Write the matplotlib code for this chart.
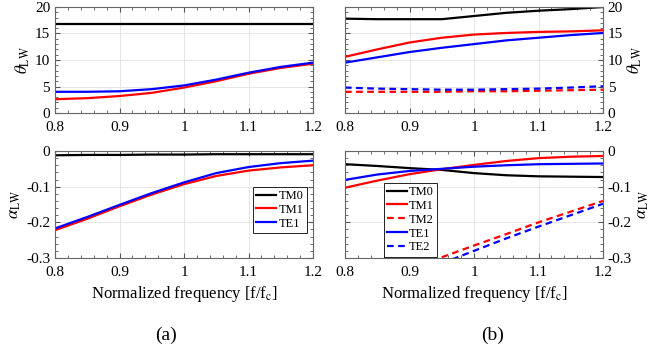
import numpy as np
import matplotlib
matplotlib.use("Agg")
import matplotlib.pyplot as plt
from matplotlib.ticker import AutoMinorLocator

plt.rcParams["font.family"] = "Liberation Serif"
plt.rcParams["mathtext.fontset"] = "stix"

freq = [0.8, 0.85, 0.9, 0.95, 1.0, 1.05, 1.1, 1.15, 1.2]

# (a) leaky-wave angle / attenuation
a_theta_tm0 = [16.7, 16.7, 16.7, 16.7, 16.7, 16.7, 16.7, 16.7, 16.7]
a_theta_tm1 = [2.6, 2.8, 3.2, 3.8, 4.8, 6.0, 7.4, 8.5, 9.3]
a_theta_te1 = [4.0, 4.0, 4.1, 4.5, 5.2, 6.3, 7.6, 8.7, 9.5]
a_alpha_tm0 = [-0.012, -0.011, -0.011, -0.010, -0.010, -0.009, -0.009, -0.009, -0.009]
a_alpha_tm1 = [-0.222, -0.19, -0.155, -0.122, -0.093, -0.07, -0.055, -0.046, -0.04]
a_alpha_te1 = [-0.217, -0.185, -0.151, -0.118, -0.088, -0.062, -0.045, -0.034, -0.027]

# (b)
b_theta_tm0 = [17.8, 17.7, 17.7, 17.7, 18.3, 18.9, 19.3, 19.6, 20.0]
b_theta_tm1 = [10.6, 12.0, 13.3, 14.2, 14.8, 15.1, 15.3, 15.4, 15.6]
b_theta_tm2 = [4.0, 4.0, 4.0, 4.0, 4.1, 4.1, 4.2, 4.3, 4.4]
b_theta_te1 = [9.5, 10.5, 11.5, 12.3, 13.0, 13.7, 14.2, 14.7, 15.1]
b_theta_te2 = [4.8, 4.6, 4.5, 4.4, 4.4, 4.5, 4.6, 4.8, 5.05]
b_alpha_tm0 = [-0.037, -0.042, -0.048, -0.053, -0.062, -0.068, -0.071, -0.072, -0.073]
b_alpha_tm1 = [-0.103, -0.083, -0.065, -0.051, -0.039, -0.028, -0.02, -0.016, -0.014]
b_alpha_te1 = [-0.081, -0.066, -0.056, -0.05, -0.044, -0.04, -0.037, -0.036, -0.035]
freq_hi = [0.95, 1.0, 1.05, 1.1, 1.15, 1.2]
b_alpha_tm2 = [-0.298, -0.265, -0.233, -0.2, -0.17, -0.14]
b_alpha_te2 = [-0.315, -0.28, -0.245, -0.212, -0.18, -0.148]

W, H = 657, 354
fig = plt.figure(figsize=(W / 100, H / 100), dpi=100)

def box(x0, y0, x1, y1):
    return [x0 / W, 1 - y1 / H, (x1 - x0) / W, (y1 - y0) / H]

ax1 = fig.add_axes(box(55, 7, 313, 113))
ax2 = fig.add_axes(box(55, 151, 313, 258))
ax3 = fig.add_axes(box(345, 7, 603, 113))
ax4 = fig.add_axes(box(345, 151, 603, 258))

lw = 1.6
dash = (0, (3, 2))
ax1.plot(freq, a_theta_tm0, color="black", lw=lw)
ax1.plot(freq, a_theta_tm1, color="red", lw=lw)
ax1.plot(freq, a_theta_te1, color="blue", lw=lw)

ax2.plot(freq, a_alpha_tm0, color="black", lw=lw, label="TM0")
ax2.plot(freq, a_alpha_tm1, color="red", lw=lw, label="TM1")
ax2.plot(freq, a_alpha_te1, color="blue", lw=lw, label="TE1")

ax3.plot(freq, b_theta_tm0, color="black", lw=lw)
ax3.plot(freq, b_theta_tm1, color="red", lw=lw)
ax3.plot(freq, b_theta_tm2, color="red", lw=lw, ls=dash)
ax3.plot(freq, b_theta_te1, color="blue", lw=lw)
ax3.plot(freq, b_theta_te2, color="blue", lw=lw, ls=dash)

ax4.plot(freq, b_alpha_tm0, color="black", lw=lw, label="TM0")
ax4.plot(freq, b_alpha_tm1, color="red", lw=lw, label="TM1")
ax4.plot(freq_hi, b_alpha_tm2, color="red", lw=lw, ls=dash, label="TM2")
ax4.plot(freq, b_alpha_te1, color="blue", lw=lw, label="TE1")
ax4.plot(freq_hi, b_alpha_te2, color="blue", lw=lw, ls=dash, label="TE2")

for ax in (ax1, ax2, ax3, ax4):
    ax.set_xlim(0.8, 1.2)
    ax.set_xticks([0.8, 0.9, 1.0, 1.1, 1.2])
    ax.set_xticklabels(["0.8", "0.9", "1", "1.1", "1.2"])
    ax.xaxis.set_minor_locator(AutoMinorLocator(5))
    ax.yaxis.set_minor_locator(AutoMinorLocator(5))
    ax.tick_params(which="both", direction="in", top=True, right=True,
                   color="#555555", labelsize=11)
    ax.tick_params(which="major", length=3.5)
    ax.tick_params(which="minor", length=2)
    ax.tick_params(axis="x", pad=6)
    ax.grid(True, color="#e6e6e6", lw=0.7)
    for s in ax.spines.values():
        s.set_color("#666666")
        s.set_linewidth(0.8)

for ax in (ax1, ax3):
    ax.set_ylim(0, 20)
    ax.set_yticks([0, 5, 10, 15, 20])
    ax.set_ylabel(r"$\theta_{\rm LW}$", fontsize=12, labelpad=2)
for ax in (ax2, ax4):
    ax.set_ylim(-0.3, 0)
    ax.set_yticks([-0.3, -0.2, -0.1, 0])
    ax.set_yticklabels(["-0.3", "-0.2", "-0.1", "0"])
    ax.set_ylabel(r"$\alpha_{\rm LW}$", fontsize=12, labelpad=2)
    ax.set_xlabel(r"Normalized frequency [f/f$_{\rm c}$]", fontsize=12, labelpad=3)

for ax in (ax3, ax4):
    ax.yaxis.tick_right()
    ax.yaxis.set_label_position("right")
    ax.tick_params(which="both", left=True)
    ax.yaxis.label.set_rotation(90)

leg_kw = dict(fontsize=9, handlelength=1.6, handletextpad=0.2, borderpad=0.25,
              labelspacing=0.15, fancybox=False, framealpha=1, edgecolor="black",
              borderaxespad=0.2)
l2 = ax2.legend(loc="center right", bbox_to_anchor=(0.985, 0.45), **leg_kw)
l4 = ax4.legend(loc="lower left", bbox_to_anchor=(0.14, -0.01), **leg_kw)
for l in (l2, l4):
    l.get_frame().set_linewidth(0.6)

fig.text(166 / W, 1 - 335 / H, "(a)", ha="center", va="center", fontsize=14)
fig.text(493 / W, 1 - 335 / H, "(b)", ha="center", va="center", fontsize=14)

fig.savefig("out.png", dpi=100)
